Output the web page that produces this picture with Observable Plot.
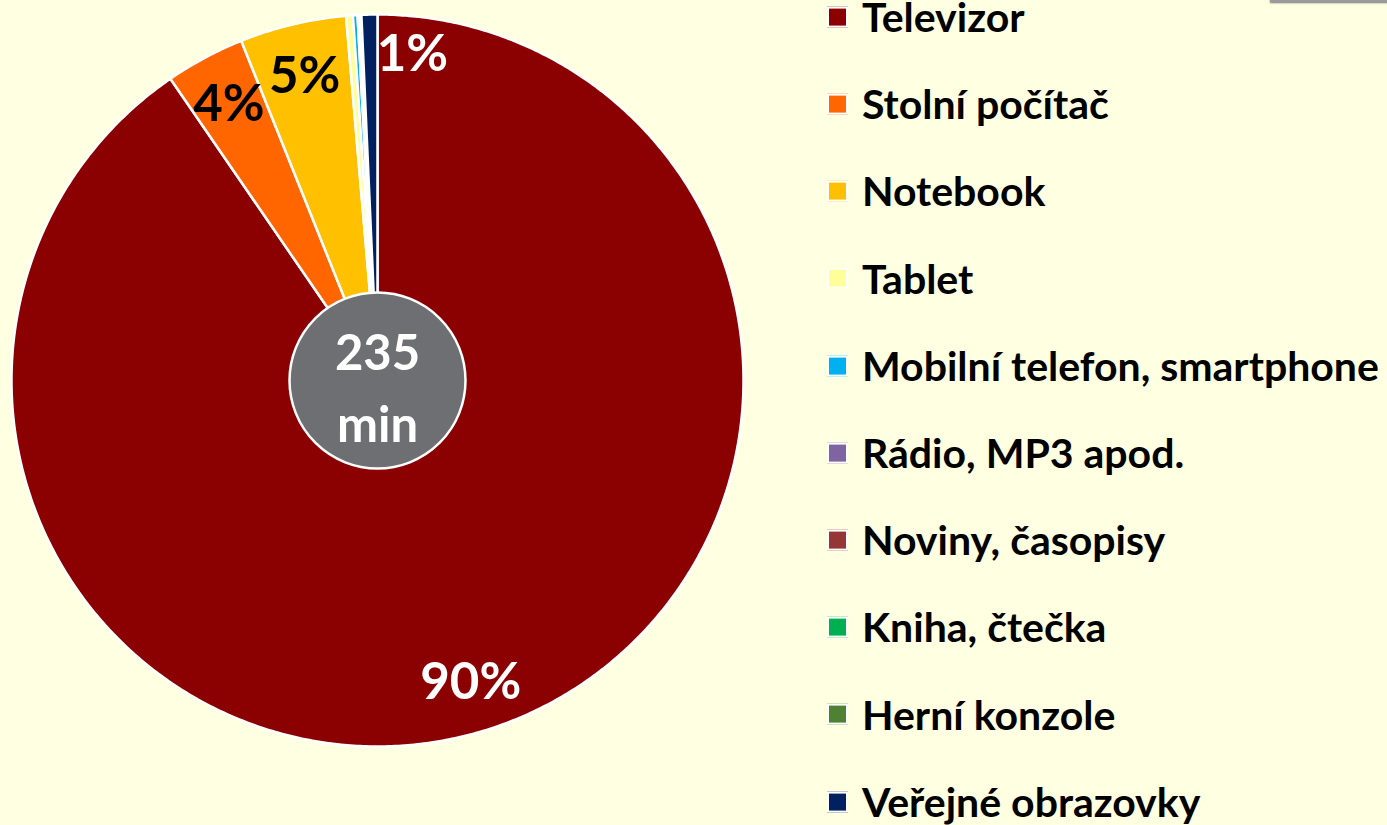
<!DOCTYPE html>
<html>
<head>
<meta charset="utf-8">
<script src="https://cdn.jsdelivr.net/npm/d3@7"></script>
<script src="https://cdn.jsdelivr.net/npm/@observablehq/plot@0.6"></script>
<style>
  html, body { margin: 0; padding: 0; background: #ffffe1; }
  #wrap { position: relative; width: 1387px; height: 825px; overflow: hidden; background: #ffffe1;
          font-family: Lato, "Open Sans", sans-serif; }
  #chart { position: absolute; left: 0; top: 0; }
  #legend { position: absolute; left: 827px; top: 0; width: 560px; height: 825px; }
  .item { position: absolute; left: 0; display: flex; align-items: center; white-space: nowrap;
          font-weight: 700; font-size: 41px; line-height: 0.8; color: #000; transform: translateY(-50%); }
  .sw { width: 17px; height: 17px; border: 2px solid #fff; margin-right: 14px; flex: none; }
  #corner { position: absolute; left: 1270px; top: -2px; width: 130px; height: 4px; background: #9a9a9a;
            box-shadow: 0 1px 2px #777; }
</style>
</head>
<body>
<div id="wrap">
  <div id="chart"></div>
  <div id="legend"></div>
  <div id="corner"></div>
</div>
<script>
// ---- data ----
const categories = [
  "Televizor", "Stolní počítač", "Notebook", "Tablet",
  "Mobilní telefon, smartphone", "Rádio, MP3 apod.", "Noviny, časopisy",
  "Kniha, čtečka", "Herní konzole", "Veřejné obrazovky"
];
const shares = [90.4, 3.5, 4.7, 0.3, 0.2, 0.05, 0.05, 0.02, 0.05, 0.7];
const colors = [
  "#8b0000", "#ff6600", "#ffc000", "#ffff99", "#00b0f0",
  "#8064a2", "#953735", "#00b050", "#4f8132", "#002060"
];
const centerLabel = ["235", "min"];

// ---- build slices (clockwise from 12 o'clock) ----
const total = d3.sum(shares);
let acc = 0;
const slices = categories.map((c, i) => {
  const a0 = acc / total * 2 * Math.PI;
  acc += shares[i];
  const a1 = acc / total * 2 * Math.PI;
  return {category: c, share: shares[i], color: colors[i], a0, a1, mid: (a0 + a1) / 2};
});
const pts = [];
for (const s of slices) {
  const n = Math.max(2, Math.ceil((s.a1 - s.a0) / (Math.PI / 360)));
  pts.push({key: s.category, color: s.color, x: 0, y: 0});
  for (let k = 0; k <= n; k++) {
    const a = s.a0 + (s.a1 - s.a0) * k / n;
    pts.push({key: s.category, color: s.color, x: Math.sin(a), y: Math.cos(a)});
  }
  pts.push({key: s.category, color: s.color, x: 0, y: 0});
}
const labels = slices
  .filter(s => Math.round(s.share) >= 1)
  .map(s => {
    const big = s.share >= 2;
    const rr = big ? 0.86 : 0.89;
    return {text: Math.round(s.share) + "%", x: rr * Math.sin(s.mid), y: rr * Math.cos(s.mid),
            fill: d3.hsl(s.color).l < 0.35 ? "white" : "black", big};
  });

// ---- layout ----
const W = 800, H = 825, R = 366, cx = 377, cy = 380;
const plot = Plot.plot({
  width: W, height: H,
  margin: 0,
  x: {domain: [-cx / R, (W - cx) / R], axis: null},
  y: {domain: [-(H - cy) / R, cy / R], axis: null},
  color: {type: "identity"},
  style: {background: "transparent", fontFamily: "Lato, 'Open Sans', sans-serif"},
  marks: [
    Plot.line(pts, {x: "x", y: "y", z: "key", fill: "color", stroke: "white", strokeWidth: 2.5,
                    strokeLinejoin: "round", curve: "linear"}),
    Plot.dot([{x: 0, y: 0}], {x: "x", y: "y", r: 88, fill: "#6e6f72", stroke: "white", strokeWidth: 2.5}),
    Plot.text([centerLabel.join("\n")], {x: () => 0, y: () => 0, text: d => d, fill: "white",
               fontSize: 49, fontWeight: 700, lineHeight: 1.47, textAnchor: "middle", dy: 2}),
    Plot.text(labels.filter(d => d.big), {x: "x", y: "y", text: "text", fill: "fill",
               fontSize: 51, fontWeight: 700, textAnchor: "middle", dy: 2}),
    Plot.text(labels.filter(d => !d.big), {x: "x", y: "y", text: "text", fill: "fill",
               fontSize: 51, fontWeight: 700, textAnchor: "middle", dx: 42})
  ]
});
document.getElementById("chart").appendChild(plot);

// ---- legend ----
const legend = d3.select("#legend");
categories.forEach((c, i) => {
  const row = legend.append("div").attr("class", "item").style("top", (17 + i * 87.2) + "px");
  row.append("div").attr("class", "sw").style("background", colors[i]);
  row.append("span").text(c);
});
</script>
</body>
</html>
